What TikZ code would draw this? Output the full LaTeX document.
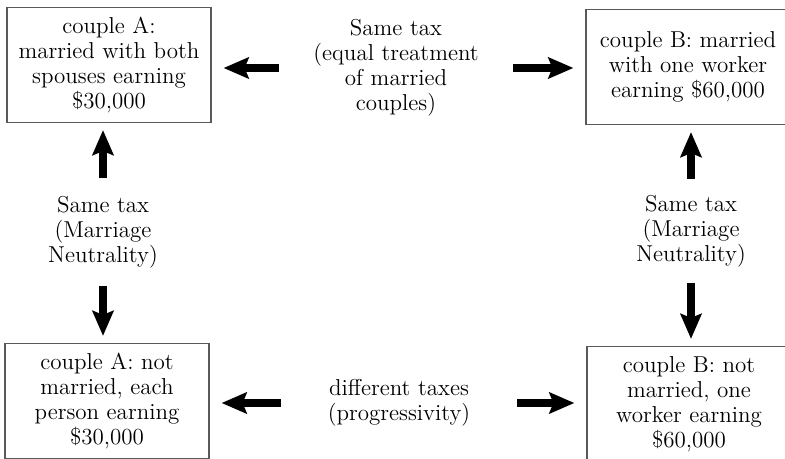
\documentclass[tikz,border=0pt]{standalone}
\usetikzlibrary{arrows.meta}

\tikzset{
  couple/.style={draw=black!65, line width=0.6pt, minimum width=102pt,
    minimum height=57.5pt, inner sep=0pt, align=center,
    font=\fontsize{11.5}{12.5}\selectfont},
  tag/.style={inner sep=0pt, align=center, font=\fontsize{11.5}{12.5}\selectfont},
  fat/.style={line width=4pt, -{Stealth[length=12.5pt, width=10.5pt, inset=2pt]}}
}

\begin{document}
\begin{tikzpicture}[x=0.5pt, y=-0.5pt]
\useasboundingbox (0,0) rectangle (785,459);
\clip (0,0) rectangle (785,459);

% draw the four couples
\node (am) [couple] at (109,65) {couple A:\\ married with both\\ spouses earning\\ \$30,000};
\node (bm) [couple] at (688,67) {couple B: married\\ with one worker\\ earning \$60,000};
\node (au) [couple] at (107,401) {couple A: not\\ married, each\\ person earning\\ \$30,000};
\node (bu) [couple] at (689,404) {couple B: not\\ married, one\\ worker earning\\ \$60,000};

% labels in between
\node (tmid) [tag, text width=117pt] at (396,68) {Same tax\\ (equal treatment\\ of married\\ couples)};
\node (bmid) [tag, text width=118pt] at (399,403) {different taxes\\ (progressivity)};
\node (lmid) [tag, minimum height=54pt] at (103,232) {Same tax\\ (Marriage\\ Neutrality)};
\node (rmid) [tag, minimum height=52pt] at (691,231) {Same tax\\ (Marriage\\ Neutrality)};

% horizontal arrows
\foreach \s/\b in {tmid.west/am.east, tmid.east/bm.west, bmid.west/au.east, bmid.east/bu.west}
    \draw[fat, shorten >=6pt] (\s) -- (\s -| \b);

% vertical arrows
\foreach \s/\b in {lmid.north/am.south, lmid.south/au.north, rmid.north/bm.south, rmid.south/bu.north}
    \draw[fat, shorten >=3.5pt] (\s) -- (\s |- \b);

\end{tikzpicture}
\end{document}
